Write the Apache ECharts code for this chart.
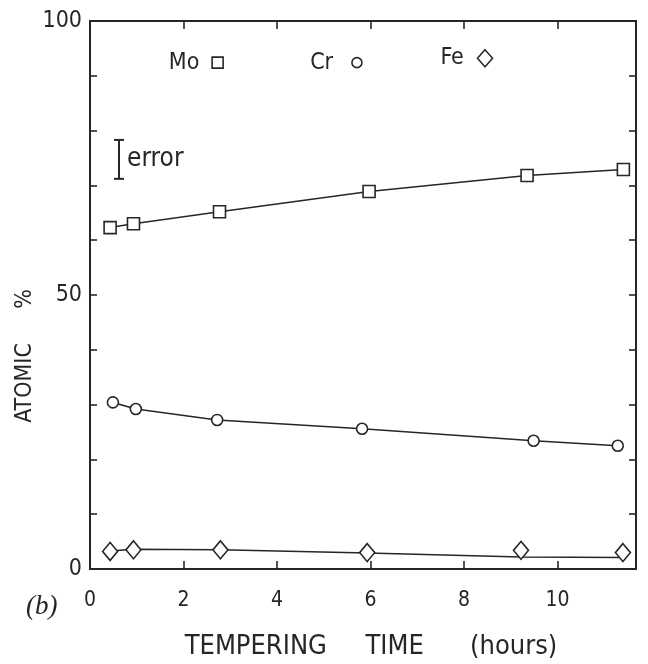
<!DOCTYPE html>
<html>
<head>
<meta charset="utf-8">
<script src="https://cdn.jsdelivr.net/npm/echarts@6/dist/echarts.min.js"></script>
<style>
html,body{margin:0;padding:0;background:#fff;}
#c{width:648px;height:664px;}
</style>
</head>
<body>
<div id="c"></div>
<script>
// ---- data ----
var xTickLabels = ['0','2','4','6','8','10'];
var yTickLabels = ['0','50','100'];

var timeMo = [0.43, 0.93, 2.77, 5.97, 9.35, 11.41];
var atomicMo = [62.3, 63.0, 65.2, 68.9, 71.8, 72.9];

var timeCr = [0.49, 0.98, 2.72, 5.82, 9.49, 11.29];
var atomicCr = [30.4, 29.2, 27.2, 25.6, 23.4, 22.5];

var timeFe = [0.43, 0.93, 2.79, 5.93, 9.22, 11.40];
var atomicFe = [3.2, 3.5, 3.5, 3.0, 3.4, 3.0];
// drawn (fitted) Fe curve values at the same times
var curveFe = [3.3, 3.6, 3.5, 2.9, 2.2, 2.1];

var keyNames = ['Mo', 'Cr', 'Fe'];
var keyX = [2.73, 5.71, 8.45];
var keyY = [92.4, 92.4, 93.2];

var errorX = 0.62;
var errorLow = 71.2;
var errorHigh = 78.3;

// ---- chart ----
var ink = '#262626';
var font = '"DejaVu Sans Condensed", "DejaVu Sans", sans-serif';
function pairs(xs, ys){ return xs.map(function(x,i){ return [x, ys[i]]; }); }
var markStyle = {color:'#fff', borderColor: ink, borderWidth: 1.6, opacity:1};
var symbols = ['rect','circle','diamond'];
var keySizes = [[11,11], 10, [15,17]];
var keyGaps = [12, 18, 13];

var chart = echarts.init(document.getElementById('c'), null, {renderer:'canvas'});
function axisLine(){ return {show:true, onZero:false, lineStyle:{color:ink, width:2}}; }
function tick(len){ return {show:true, inside:true, length:len, lineStyle:{color:ink, width:1.6}}; }
var XMAX = 11.68;
var option = {
  backgroundColor:'#fff',
  animation:false,
  grid:{left:90, right:12, top:21, bottom:95},
  xAxis:[{
    type:'value', min:0, max:XMAX, interval:2, position:'bottom',
    axisLine:axisLine(), splitLine:{show:false}, axisTick:tick(8),
    axisLabel:{color:ink, fontFamily:font, fontSize:21, margin:21, showMaxLabel:false,
      formatter:function(v){ var s=String(v); return xTickLabels.indexOf(s)>=0 ? s : ''; }}
  },{
    type:'value', min:0, max:XMAX, interval:2, position:'top',
    axisLine:axisLine(), splitLine:{show:false}, axisTick:tick(8),
    axisLabel:{show:false}
  }],
  yAxis:[{
    type:'value', min:0, max:100, interval:10, position:'left',
    axisLine:axisLine(), splitLine:{show:false}, axisTick:tick(7),
    axisLabel:{color:ink, fontFamily:font, fontSize:23, margin:8,
      formatter:function(v){ var s=String(v); return yTickLabels.indexOf(s)>=0 ? s : ''; }}
  },{
    type:'value', min:0, max:100, interval:10, position:'right',
    axisLine:axisLine(), splitLine:{show:false}, axisTick:tick(7),
    axisLabel:{show:false}
  }],
  graphic:[
    {type:'text', x:26, y:593,
      style:{text:'(b)', fill:ink, font:'italic 27px "Liberation Serif", serif'}},
    {type:'text', x:25, y:383, rotation:Math.PI/2,
      style:{text:'ATOMIC', fill:ink, font:'23px ' + font, align:'center', verticalAlign:'middle'}},
    {type:'text', x:25, y:299, rotation:Math.PI/2,
      style:{text:'%', fill:ink, font:'23px ' + font, align:'center', verticalAlign:'middle'}},
    {type:'text', x:371, y:647,
      style:{text:'TEMPERING     TIME      (hours)', fill:ink, font:'27px ' + font, align:'center', verticalAlign:'middle'}}
  ],
  series:[
    {type:'line', data:pairs(timeMo, atomicMo), symbol:'rect', symbolSize:[12,12],
      itemStyle:markStyle, lineStyle:{color:ink, width:1.5}, z:3},
    {type:'line', data:pairs(timeCr, atomicCr), symbol:'circle', symbolSize:11,
      itemStyle:markStyle, lineStyle:{color:ink, width:1.5}, z:3},
    {type:'line', data:pairs(timeFe, curveFe), symbol:'none',
      lineStyle:{color:ink, width:1.5}, z:2},
    {type:'scatter', data:pairs(timeFe, atomicFe), symbol:'diamond', symbolSize:[15,18],
      itemStyle:markStyle, z:4},
    {type:'scatter', z:4,
      data: keyNames.map(function(n,i){
        return {value:[keyX[i], keyY[i]], name:n, symbol:symbols[i], symbolSize:keySizes[i],
          label:{distance:keyGaps[i]}};
      }),
      itemStyle:markStyle,
      label:{show:true, position:'left', formatter:'{b}',
        color:ink, fontFamily:font, fontSize:23}
    },
    {type:'line', data:[[errorX, errorLow],[errorX, errorHigh]], symbol:'rect', symbolSize:[10,2],
      itemStyle:{color:ink, opacity:1}, lineStyle:{color:ink, width:2}, z:3},
    {type:'scatter', data:[{value:[errorX, (errorLow+errorHigh)/2], name:'error'}], symbolSize:0,
      itemStyle:{opacity:1},
      label:{show:true, position:'right', distance:8, formatter:'{b}', color:ink, fontFamily:font, fontSize:26}}
  ]
};
chart.setOption(option);
</script>
</body>
</html>
